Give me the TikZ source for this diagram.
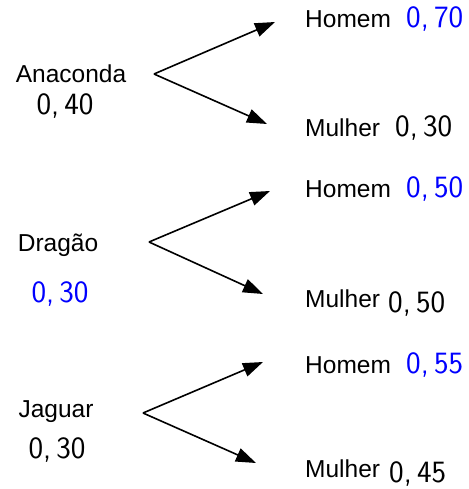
\documentclass[tikz,border=0pt]{standalone}
\usepackage{fontspec}
\newfontfamily\arial{Liberation Sans}
\usetikzlibrary{positioning,arrows.meta}
\tikzset{
  lab/.style={font=\arial\fontsize{24.5}{28}\selectfont, inner sep=0pt},
  num/.style={font=\sffamily\fontsize{31}{34}\selectfont, inner sep=0pt},
  seta/.style={-{Triangle[length=20pt,width=14pt]}, line width=1.6pt}
}
\begin{document}
\begin{tikzpicture}[x=1pt, y=-1pt]
% units are pixels of the 468 x 489 layout, y downwards
\useasboundingbox (0,0) rectangle (468,489);
% left column: team + probability
\node[lab, anchor=base] (ana) at (71,83) {Anaconda};
\node[num, anchor=base] (pana) at (65,115) {0,\,40};
\node[lab, anchor=base] (dra) at (58,251) {Dragão};
\node[num, anchor=base, blue] (pdra) at (60,302) {0,\,30};
\node[lab, anchor=base] (jag) at (56,417) {Jaguar};
\node[num, anchor=base] (pjag) at (57,458) {0,\,30};
% right column: Homem / Mulher with probabilities
\foreach \n/\yh/\ph/\ym/\dm/\xm/\pmul in {1/28/{0,\,70}/137/0/395/{0,\,30}, 2/197/{0,\,50}/312/5/388/{0,\,50}, 3/373/{0,\,55}/482/5/389/{0,\,45}}
  { \node[lab, anchor=base west] (h\n) at (305,\yh) {Homem};
    \node[num, anchor=base west, blue] (ph\n) at (406,\yh) {\ph};
    \node[lab, anchor=base west] (m\n) at (305,\ym-\dm) {Mulher};
    \node[num, anchor=base west] (pm\n) at (\xm,\ym) {\pmul}; }
% branch points and arrow ends
\coordinate (v1) at (154,74);  \coordinate (t1) at (275,22);  \coordinate (b1) at (267,124);
\coordinate (v2) at (149,242); \coordinate (t2) at (270,191); \coordinate (b2) at (263,294);
\coordinate (v3) at (143,413); \coordinate (t3) at (263,362); \coordinate (b3) at (256,463);
\foreach \n in {1,2,3} { \draw[seta] (v\n) -- (t\n); \draw[seta] (v\n) -- (b\n); }
\end{tikzpicture}
\end{document}
